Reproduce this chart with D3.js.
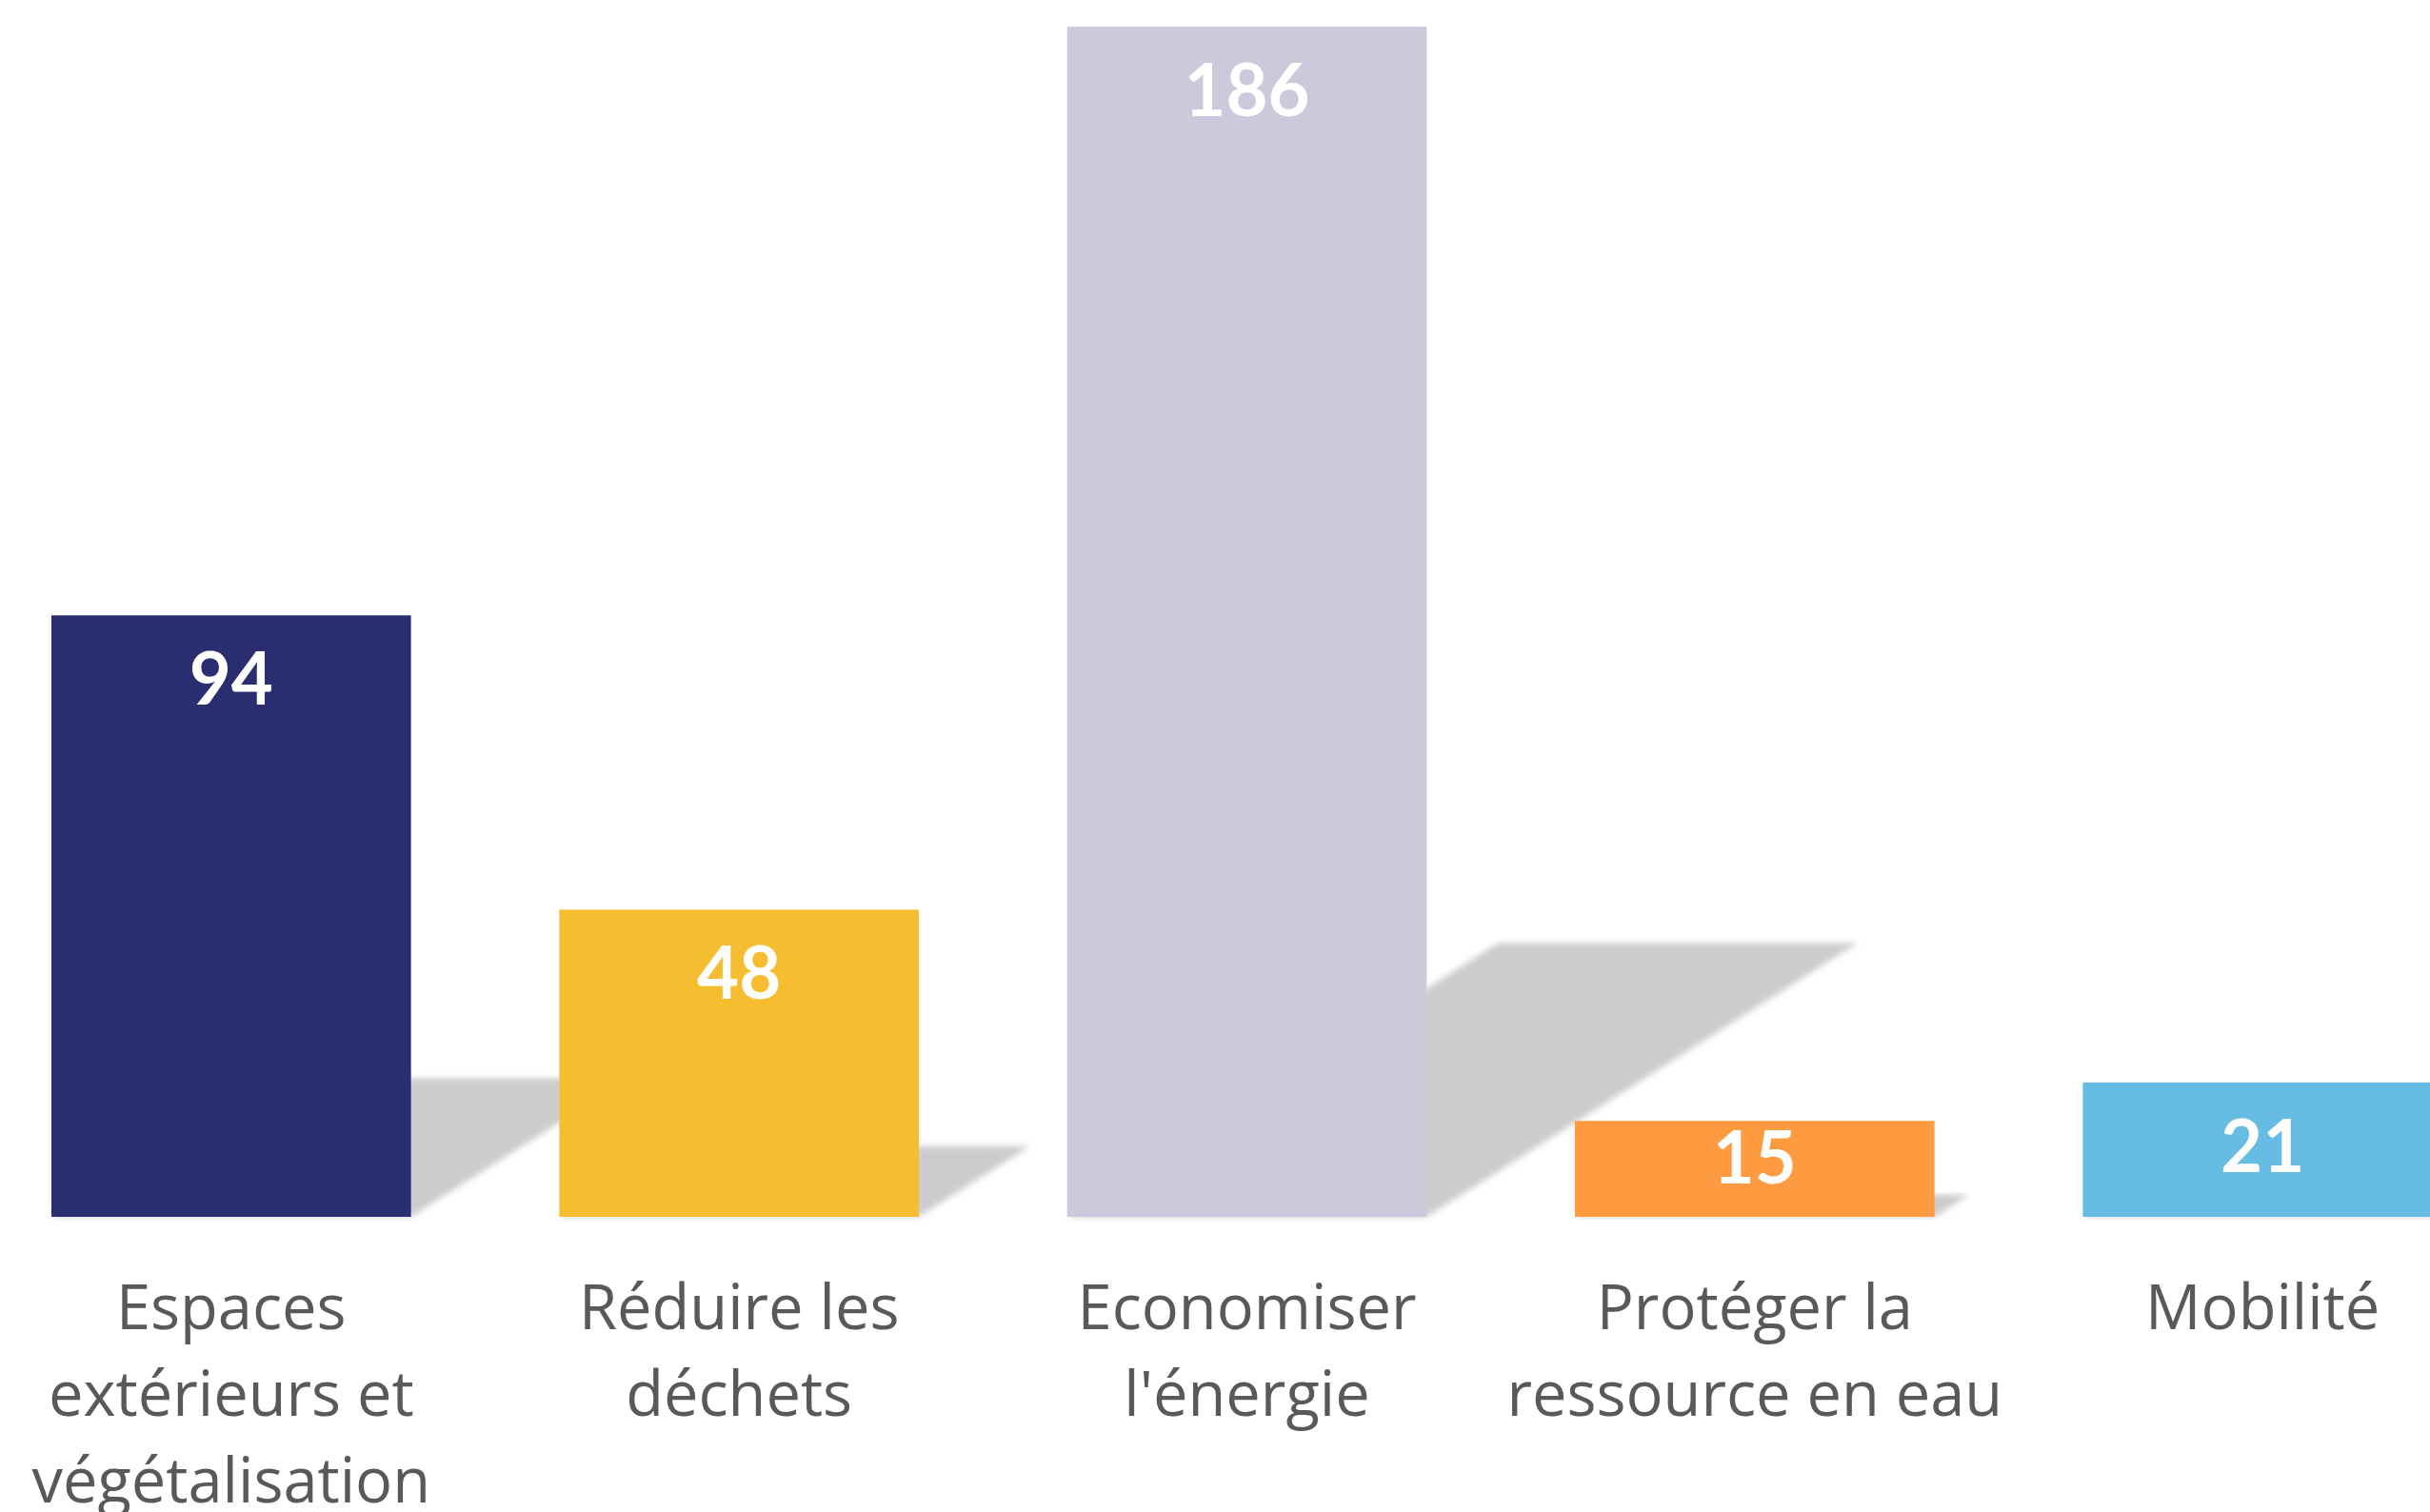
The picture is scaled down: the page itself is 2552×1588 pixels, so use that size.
<!DOCTYPE html>
<html>
<head>
<meta charset="utf-8">
<script src="https://d3js.org/d3.v7.min.js"></script>
<style>
    body {
        margin: 0;
        background-color: white;
        overflow: hidden;
    }
    svg {
        display: block;
    }
</style>
</head>
<body>
<svg></svg>
<script>
    const categories = [
        ["Espaces", "extérieurs et", "végétalisation"],
        ["Réduire les", "déchets"],
        ["Economiser", "l'énergie"],
        ["Protéger la", "ressource en eau"],
        ["Mobilité"]
    ];
    const values = [94, 48, 186, 15, 21];
    const colors = ["#2a2d70", "#f6bd31", "#cbcadd", "#fe9a3f", "#66bce2"];

    function createVis() {
        let width = 2552;
        let height = 1588;
        let baseline = 1278;
        let svg = d3.select("svg")
            .attr("width", width)
            .attr("height", height);

        let data = values.map((v, i) => ({index: i, value: v, lines: categories[i], color: colors[i]}));

        let xScale = d3.scaleBand()
            .domain(data.map(d => d.index))
            .range([54, 2565])
            .paddingInner(0.292)
            .paddingOuter(0);

        let yScale = d3.scaleLinear()
            .domain([0, 186])
            .range([baseline, 28]);

        // soft edge for the shadows
        svg.append("defs")
            .append("filter")
            .attr("id", "blur")
            .attr("x", "-10%").attr("y", "-10%")
            .attr("width", "120%").attr("height", "120%")
            .append("feGaussianBlur")
            .attr("stdDeviation", 3);

        // slanted shadows behind the bars
        svg.selectAll(".shadow")
            .data(data)
            .join("polygon")
            .attr("class", "shadow")
            .attr("fill", "#cccccc")
            .attr("filter", "url(#blur)")
            .attr("points", d => {
                let x0 = xScale(d.index);
                let x1 = x0 + xScale.bandwidth();
                let h = baseline - yScale(d.value);
                let dx = h * 0.362;
                let top = baseline - h * 0.23;
                return [[x0, baseline], [x1, baseline], [x1 + dx, top], [x0 + dx, top]].join(" ");
            });

        svg.selectAll(".bar")
            .data(data)
            .join("rect")
            .attr("class", "bar")
            .attr("x", d => xScale(d.index))
            .attr("y", d => yScale(d.value))
            .attr("width", xScale.bandwidth())
            .attr("height", d => baseline - yScale(d.value))
            .attr("fill", d => d.color);

        // values inside the bars (kept inside short bars)
        svg.selectAll(".value")
            .data(data)
            .join("text")
            .attr("class", "value")
            .attr("x", d => xScale(d.index) + xScale.bandwidth() / 2)
            .attr("y", d => Math.min(yScale(d.value) + 94, baseline - 35))
            .attr("text-anchor", "middle")
            .attr("font-family", "Lato, sans-serif")
            .attr("font-weight", "bold")
            .attr("font-size", 76)
            .attr("fill", "white")
            .text(d => d.value);

        // category labels
        let labels = svg.selectAll(".label")
            .data(data)
            .join("text")
            .attr("class", "label")
            .attr("text-anchor", "middle")
            .attr("font-family", "'Open Sans', sans-serif")
            .attr("font-size", 65)
            .attr("fill", "#595959");

        labels.selectAll("tspan")
            .data(d => d.lines.map((l, j) => ({text: l, j: j, cx: xScale(d.index) + xScale.bandwidth() / 2})))
            .join("tspan")
            .attr("x", t => t.cx)
            .attr("y", t => 1396 + t.j * 91)
            .text(t => t.text);
    }
    createVis();
</script>
</body>
</html>
